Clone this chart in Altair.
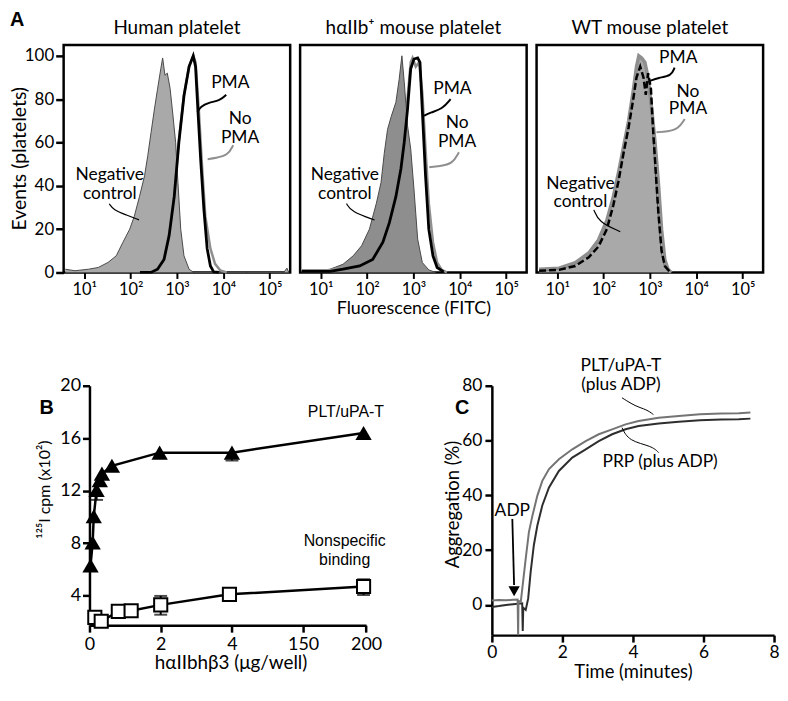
import altair as alt
import pandas as pd

FONT = "Lato"
SANS = "Liberation Sans"

# ---------------- Panel A: flow cytometry histograms ----------------
# x = log10(fluorescence) read from the axis, y = events (% of max)
A1_neg_lx = [0.59, 0.8, 1.09, 1.30, 1.51, 1.69, 1.83, 1.98, 2.08, 2.19, 2.30, 2.37, 2.44, 2.51, 2.58,
             2.65, 2.69, 2.74, 2.79, 2.85, 2.90, 2.97, 3.02, 3.08, 3.15, 3.26, 3.36, 4.5, 5.3, 5.37, 5.41]
A1_neg_y = [1.5, 0.8, 1.5, 2.3, 4.6, 7.7, 13.8, 20, 26, 35, 44.6, 54, 64.6, 75, 84.6,
            94, 99, 91, 92, 85, 75, 60, 41.5, 20, 7.7, 1.5, 0, 0, 0, 2, 0]
A1_pma_lx = [2.2, 2.44, 2.58, 2.72, 2.83, 2.94, 3.04, 3.15, 3.26, 3.35, 3.40, 3.45, 3.51, 3.58, 3.65, 3.72, 3.79, 3.9]
A1_pma_y = [0, 0, 1.5, 6, 17, 35, 60, 81.5, 95, 100, 95, 75, 52, 29, 11, 3, 0.3, 0]
A1_nopma_lx = [2.2, 2.44, 2.58, 2.72, 2.83, 2.94, 3.04, 3.15, 3.26, 3.35, 3.40, 3.47, 3.54, 3.61, 3.72, 3.82, 3.93, 4.07]
A1_nopma_y = [0, 0, 1.5, 6.5, 18, 36, 61, 82, 95, 100, 97, 75, 49, 26, 11, 4, 1, 0]

A2_neg_lx = [0.59, 0.91, 1.20, 1.48, 1.70, 1.88, 2.05, 2.20, 2.30, 2.37, 2.44, 2.52, 2.62, 2.69,
             2.75, 2.80, 2.87, 2.94, 3.01, 3.09, 3.19, 3.33, 3.48]
A2_neg_y = [0.8, 0.8, 1.5, 3.8, 7.7, 12.3, 20, 32, 41.5, 55, 66, 72, 78.5, 89,
            100, 88, 68, 57, 38.5, 15.4, 4.6, 1.2, 0]
A2_pma_lx = [0.59, 1.20, 1.48, 1.84, 2.12, 2.34, 2.48, 2.62, 2.73, 2.80, 2.87, 2.94, 3.01, 3.09,
             3.14, 3.19, 3.26, 3.33, 3.42, 3.51, 3.65]
A2_pma_y = [0.5, 0.5, 1.5, 3, 6, 14, 23, 35, 48, 60, 75, 94, 98.5, 99,
            97, 75, 44.6, 20, 7.7, 2.3, 0.3]
A2_nopma_lx = [0.59, 1.20, 1.48, 1.84, 2.12, 2.34, 2.48, 2.62, 2.73, 2.80, 2.87, 2.94, 2.98, 3.05,
               3.12, 3.19, 3.26, 3.33, 3.42, 3.51, 3.61, 3.72]
A2_nopma_y = [1, 1, 2.5, 4.5, 8, 16, 25, 37, 50, 63, 80, 97, 99, 95,
              97, 83, 57, 32, 14, 4.6, 1.2, 0]

A3_neg_lx = [0.61, 1.04, 1.39, 1.68, 1.89, 2.07, 2.21, 2.32, 2.43, 2.54, 2.64, 2.71, 2.76, 2.82,
             2.89, 2.96, 3.04, 3.11, 3.18, 3.25, 3.32, 3.43]
A3_neg_y = [0.8, 1.5, 3.8, 8.5, 14, 23, 34, 44.6, 57, 69, 83, 94, 99, 98.5,
            96, 88, 71, 48, 26, 9, 2.3, 0.3]
A3_pma_lx = [0.61, 1.04, 1.39, 1.68, 1.89, 2.07, 2.21, 2.32, 2.43, 2.54, 2.64, 2.71, 2.79, 2.86,
             2.91, 2.96, 3.02, 3.07, 3.12, 3.18, 3.25, 3.32, 3.43]
A3_pma_y = [0.8, 1.2, 3, 7, 12, 20, 31, 42, 55, 67, 80, 90, 95, 90,
            82, 92, 85, 65, 48, 28, 10, 3, 0.3]
A3_nopma_lx = [0.61, 1.04, 1.39, 1.68, 1.89, 2.07, 2.21, 2.32, 2.43, 2.54, 2.64, 2.71, 2.76, 2.82,
               2.89, 2.96, 3.04, 3.11, 3.18, 3.25, 3.32, 3.39, 3.46]
A3_nopma_y = [1.5, 2, 4.5, 9, 15, 24, 35, 46, 58, 70, 84, 95, 100, 99,
              97, 90, 75, 60, 42, 20, 6, 1.5, 0]

# annotation texts and leader lines (log10 x, y)
A1_txt = {"t": ["PMA", "No", "PMA", "Negative", "control"],
          "lx": [4.15, 4.36, 4.36, 1.55, 1.55], "y": [87.6, 70.6, 62.2, 44.8, 36.4]}
A2_txt = {"t": ["PMA", "No", "PMA", "Negative", "control"],
          "lx": [3.84, 3.94, 3.94, 1.52, 1.52], "y": [84.5, 68.9, 60.0, 44.8, 36.4]}
A3_txt = {"t": ["PMA", "No", "PMA", "Negative", "control"],
          "lx": [3.61, 3.82, 3.82, 1.50, 1.50], "y": [99, 83.4, 75.2, 41, 32.6]}

A1_lead_pma = ([4.06, 3.93, 3.68, 3.51, 3.44], [82, 79.4, 78.4, 76.6, 73.9])
A1_lead_nopma = ([4.21, 4.10, 3.83, 3.66], [58.7, 54.1, 52.8, 52.3])
A1_lead_neg = ([1.54, 1.63, 1.90, 2.18], [31.7, 28.9, 26.6, 24.3])
A2_lead_pma = ([3.80, 3.62, 3.37, 3.23], [80, 75.4, 73.9, 72.3])
A2_lead_nopma = ([3.98, 3.84, 3.56, 3.34], [55.5, 50.1, 49.1, 48.6])
A2_lead_neg = ([1.556, 1.66, 2.16], [31.8, 28, 24.2])
A3_lead_pma = ([3.53, 3.46, 3.18, 3.0], [94.5, 90.7, 89.9, 88.4])
A3_lead_nopma = ([3.75, 3.61, 3.38, 3.14], [70.8, 66.2, 65.1, 64.7])
A3_lead_neg = ([1.79, 1.89, 2.36], [28.9, 23.4, 18.8])

A_TICKS = [10, 100, 1000, 10000, 100000]
A_YTICKS = [0, 20, 40, 60, 80, 100]

# ---------------- Panel B: binding ----------------
B_tri_x = [0.03, 0.09, 0.12, 0.2, 0.29, 0.35, 0.63, 1.97, 4.0, 198]
B_tri_y = [6.3, 8.05, 10.05, 12.05, 12.8, 13.3, 13.9, 14.9, 14.9, 16.4]
B_tri_err_x = [0.2, 4.0]
B_tri_err_lo = [11.3, 14.3]
B_tri_err_hi = [12.05, 14.9]
B_sq_x = [0.15, 0.33, 0.81, 1.17, 2.0, 3.93, 198]
B_sq_y = [2.35, 2.05, 2.8, 2.85, 3.3, 4.1, 4.7]
B_sq_err_x = [2.0, 198]
B_sq_err_lo = [2.55, 4.05]
B_sq_err_hi = [3.98, 5.25]
B_xticks = [0, 2, 4, 150, 200]
B_yticks = [4, 8, 12, 16, 20]
B_txt = {"t": ["PLT/uPA-T", "Nonspecific", "binding"], "x": [184, 183, 183], "y": [18.0, 8.2, 6.7]}

# ---------------- Panel C: aggregation traces ----------------
C_plt_t = [0, 0.2, 0.4, 0.6, 0.73, 0.745, 0.755, 0.82, 0.96, 1.05, 1.15, 1.29, 1.43, 1.62, 1.90,
           2.28, 2.66, 3.03, 3.41, 3.79, 4.16, 4.73, 5.3, 5.9, 6.5, 7.0, 7.33]
C_plt_v = [1.6, 1.8, 1.7, 1.9, 2.0, -11, 1.5, 1.2, 16.9, 26.6, 32.6, 39.9, 45.3, 49.6, 53.2,
           56.8, 59.8, 62.3, 64.1, 65.9, 67.1, 68.3, 69.0, 69.6, 69.9, 70.0, 70.2]
C_prp_t = [0, 0.2, 0.4, 0.6, 0.86, 0.875, 0.89, 0.96, 1.03, 1.10, 1.19, 1.29, 1.43, 1.62, 1.90,
           2.28, 2.66, 3.03, 3.41, 3.79, 4.16, 4.73, 5.3, 5.9, 6.5, 7.0, 7.33]
C_prp_v = [-0.7, -0.4, 0, 0.3, 0.6, -9.5, -1.0, -1.8, 2.4, 12.1, 21.8, 29, 36.3, 42.9, 48.9,
           53.8, 56.8, 59.8, 62.3, 64.1, 65.3, 66.2, 66.9, 67.4, 67.7, 67.8, 68.0]
C_lead_plt = ([3.69, 4.07, 4.39, 4.58], [75.6, 72.5, 71.3, 69.5])
C_lead_prp = ([3.69, 3.88, 4.54, 4.73], [64.7, 59.8, 58, 55.6])
C_arrow = ([0.58, 0.63], [31.4, 7.3])
C_head = ([0.63], [5.0])
C_txt = {"t": ["PLT/uPA-T", "(plus ADP)", "PRP (plus ADP)", "ADP"],
         "x": [3.66, 3.66, 4.77, 0.58], "y": [87.2, 80.4, 52, 34.4]}
C_xticks = [0, 2, 4, 6, 8]
C_yticks = [0, 20, 40, 60, 80]

ONE = pd.DataFrame({"k": [0]})
SUP = "'10' + ['\u2070','\u00b9','\u00b2','\u00b3','\u2074','\u2075'][round(log(datum.value) / LN10)]"


def xy(xs, ys, log=False):
    return pd.DataFrame({"x": [10 ** v for v in xs] if log else list(xs), "y": list(ys),
                         "i": list(range(len(xs)))})


def a_panel(neg, pma, nopma, leads, txt, title, fill, show_y, xtitle, pma_dash, nopma_w, extras):
    log_dom = [10 ** 0.555, 10 ** 5.44]
    if xtitle:
        xenc = alt.X("x:Q", scale=alt.Scale(type="log", domain=log_dom, nice=False),
                     title=xtitle,
                     axis=alt.Axis(values=A_TICKS, labelExpr=SUP, tickSize=6, tickWidth=2,
                                   labelPadding=3, domain=False, labelFontSize=16.5,
                                   titleFontSize=18, titleX=114, titleY=36, titleBaseline="middle"))
    else:
        xenc = alt.X("x:Q", scale=alt.Scale(type="log", domain=log_dom, nice=False), title=None,
                     axis=alt.Axis(values=A_TICKS, labelExpr=SUP, tickSize=6, tickWidth=2,
                                   labelPadding=3, domain=False, labelFontSize=16.5))
    ysc = alt.Scale(domain=[0, 105], nice=False, zero=False)
    if show_y:
        yenc = alt.Y("y:Q", scale=ysc, title="Events (platelets)",
                     axis=alt.Axis(values=A_YTICKS, tickSize=8, tickWidth=2.5, labelPadding=2,
                                   domain=False, labelFontSize=17, titleFontSize=19.5,
                                   titleX=-44, titleY=114, titleBaseline="middle"))
    else:
        yenc = alt.Y("y:Q", scale=ysc, axis=None)

    layers = [
        alt.Chart(xy(*neg, log=True)).mark_area(
            color=fill, opacity=1, line={"color": "#4a4a4a", "strokeWidth": 1}
        ).encode(x=xenc, y=yenc),
        alt.Chart(xy(*nopma, log=True)).mark_line(color="#8f8f8f", strokeWidth=nopma_w).encode(
            x=xenc, y=yenc, order="i:Q"),
    ]
    if pma_dash:
        layers.append(alt.Chart(xy(*pma, log=True)).mark_line(
            color="black", strokeWidth=2.5, strokeDash=[7, 3]).encode(x=xenc, y=yenc, order="i:Q"))
    else:
        layers.append(alt.Chart(xy(*pma, log=True)).mark_line(
            color="black", strokeWidth=2.8).encode(x=xenc, y=yenc, order="i:Q"))
    lead_cols = ["black", "#8f8f8f", "black"]
    lead_w = [2, 2, 1.2]
    for (lx, ly), col, w in zip(leads, lead_cols, lead_w):
        layers.append(alt.Chart(xy(lx, ly, log=True)).mark_line(
            color=col, strokeWidth=w, interpolate="basis").encode(x=xenc, y=yenc, order="i:Q"))
    tdf = pd.DataFrame({"x": [10 ** v for v in txt["lx"]], "y": txt["y"], "t": txt["t"]})
    layers.append(alt.Chart(tdf).mark_text(font=FONT, fontSize=17.5, color="black").encode(
        x=xenc, y=yenc, text="t:N"))
    layers += extras
    return alt.layer(*layers).properties(
        width=228, height=229,
        title=alt.TitleParams(title, font=FONT, fontSize=19, fontWeight="normal", offset=7,
                              frame="group"),
        view=alt.ViewBackground(stroke="black", strokeWidth=2.5),
    )


bottom_anchor = alt.Chart(ONE).mark_text(text=".", color="white", align="left",
                                          baseline="bottom").encode(x=alt.value(0), y=alt.value(275))

A1 = a_panel((A1_neg_lx, A1_neg_y), (A1_pma_lx, A1_pma_y), (A1_nopma_lx, A1_nopma_y),
             [A1_lead_pma, A1_lead_nopma, A1_lead_neg], A1_txt, "Human platelet", "#a9a9a9",
             True, None, False, 2.5, [bottom_anchor])
A2 = a_panel((A2_neg_lx, A2_neg_y), (A2_pma_lx, A2_pma_y), (A2_nopma_lx, A2_nopma_y),
             [A2_lead_pma, A2_lead_nopma, A2_lead_neg], A2_txt, "h\u03b1IIb\u207a mouse platelet",
             "#8e8e8e", False, "Fluorescence (FITC)", False, 2.5, [])
A3 = a_panel((A3_neg_lx, A3_neg_y), (A3_pma_lx, A3_pma_y), (A3_nopma_lx, A3_nopma_y),
             [A3_lead_pma, A3_lead_nopma, A3_lead_neg], A3_txt, "WT mouse platelet",
             "#a9a9a9", False, None, True, 3.5, [])

# tiny holder for the panel letter "A" (kept out of A1 so its title is not pushed up)
letterA = alt.Chart(ONE).mark_text(text="A", font=SANS, fontSize=20, fontWeight="bold",
                                    align="left", baseline="top").encode(
    x=alt.value(-43), y=alt.value(-35)).properties(width=1, height=1)

# ---------------- Panel B chart ----------------
bx = alt.X("x:Q", scale=alt.Scale(domain=[0, 4, 150, 200], range=[0, 143.4, 215, 278.4], nice=False, zero=False),
           title="h\u03b1IIbh\u03b23 (\u03bcg/well)",
           axis=alt.Axis(values=B_xticks, tickSize=7, tickWidth=2.5, domainWidth=2.5, labelPadding=3,
                         labelFontSize=18, titleFontSize=19, titleX=142, titleY=38,
                         titleBaseline="middle", labelFlush=False))
by = alt.Y("y:Q", scale=alt.Scale(domain=[1.75, 20], nice=False, zero=False),
           title="\u00b9\u00b2\u2075I cpm (x10\u00b2)",
           axis=alt.Axis(values=B_yticks, tickSize=7, tickWidth=2.5, domainWidth=2.5, labelPadding=2,
                         labelFontSize=18, titleFontSize=16, titleX=-45, titleY=104,
                         titleBaseline="middle", labelFlush=False))

tri = xy(B_tri_x, B_tri_y)
sq = xy(B_sq_x, B_sq_y)
tri_err = pd.DataFrame({"x": B_tri_err_x, "y": B_tri_err_lo, "y2": B_tri_err_hi})
sq_err = pd.DataFrame({"x": B_sq_err_x, "y": B_sq_err_lo, "y2": B_sq_err_hi})
sq_caps = pd.DataFrame({"x": B_sq_err_x + B_sq_err_x, "y": B_sq_err_lo + B_sq_err_hi})

B = alt.layer(
    alt.Chart(tri).mark_line(color="black", strokeWidth=2.5).encode(x=bx, y=by, order="i:Q"),
    alt.Chart(tri_err).mark_rule(color="black", strokeWidth=2).encode(x=bx, y=by, y2="y2:Q"),
    alt.Chart(tri_err).mark_tick(orient="horizontal", size=13, thickness=2, color="black").encode(x=bx, y=by),
    alt.Chart(tri).mark_point(shape="triangle-up", filled=True, color="black", size=270, opacity=1).encode(x=bx, y=by),
    alt.Chart(sq).mark_line(color="black", strokeWidth=2.5).encode(x=bx, y=by, order="i:Q"),
    alt.Chart(sq_err).mark_rule(color="black", strokeWidth=2).encode(x=bx, y=by, y2="y2:Q"),
    alt.Chart(sq_caps).mark_tick(orient="horizontal", size=13, thickness=2, color="black").encode(x=bx, y=by),
    alt.Chart(sq).mark_point(shape="square", filled=True, fill="white", stroke="black", strokeWidth=2,
                             size=175, opacity=1).encode(x=bx, y=by),
    alt.Chart(pd.DataFrame(B_txt)).mark_text(font=SANS, fontSize=16, color="black").encode(
        x=bx, y=by, text="t:N"),
    alt.Chart(ONE).mark_text(text="B", font=SANS, fontSize=20, fontWeight="bold").encode(
        x=alt.value(-43), y=alt.value(22)),
    alt.Chart(ONE).mark_text(text=".", color="white", align="left", baseline="top").encode(
        x=alt.value(-80), y=alt.value(-30)),
).properties(width=279, height=241)

# ---------------- Panel C chart ----------------
cx = alt.X("x:Q", scale=alt.Scale(domain=[0, 8], nice=False, zero=False), title="Time (minutes)",
           axis=alt.Axis(values=C_xticks, tickSize=7, tickWidth=2.5, domainWidth=2.5, labelPadding=2,
                         labelFontSize=17.5, titleFontSize=18.5, titleY=37, titleBaseline="middle",
                         labelFlush=False))
cy = alt.Y("y:Q", scale=alt.Scale(domain=[-11, 80], nice=False, zero=False), title="Aggregation (%)",
           axis=alt.Axis(values=C_yticks, tickSize=7, tickWidth=2.5, domainWidth=2.5, labelPadding=3,
                         labelFontSize=17.5, titleFontSize=18.5, titleX=-40, titleY=119,
                         titleBaseline="middle", labelFlush=False))

C = alt.layer(
    alt.Chart(xy(C_prp_t, C_prp_v)).mark_line(color="#2e2e2e", strokeWidth=2).encode(x=cx, y=cy, order="i:Q"),
    alt.Chart(xy(C_plt_t, C_plt_v)).mark_line(color="#747474", strokeWidth=2).encode(x=cx, y=cy, order="i:Q"),
    alt.Chart(xy(*C_lead_plt)).mark_line(color="black", strokeWidth=1, interpolate="basis").encode(
        x=cx, y=cy, order="i:Q"),
    alt.Chart(xy(*C_lead_prp)).mark_line(color="black", strokeWidth=1, interpolate="basis").encode(
        x=cx, y=cy, order="i:Q"),
    alt.Chart(xy(*C_arrow)).mark_line(color="black", strokeWidth=1.8).encode(x=cx, y=cy, order="i:Q"),
    alt.Chart(xy(*C_head)).mark_point(shape="triangle-down", filled=True, color="black", size=130,
                                      opacity=1).encode(x=cx, y=cy),
    alt.Chart(pd.DataFrame(C_txt)).mark_text(font=FONT, fontSize=17.5, color="black").encode(
        x=cx, y=cy, text="t:N"),
    alt.Chart(ONE).mark_text(text="C", font=SANS, fontSize=20, fontWeight="bold").encode(
        x=alt.value(-30), y=alt.value(22)),
).properties(width=284, height=251)

spacer = alt.Chart(ONE).mark_point(opacity=0, size=1).encode(
    x=alt.value(0), y=alt.value(0)).properties(width=1, height=1)

row1 = alt.hconcat(letterA, A1, A2, A3, spacing=10, bounds="flush")
row2 = alt.hconcat(spacer, alt.hconcat(B, C, spacing=126, bounds="flush"), spacing=36, bounds="flush")

chart = alt.vconcat(row1, row2, spacing=36, bounds="full").properties(
    padding={"left": 0, "top": 0, "right": 0, "bottom": 0}, background="white"
).configure_axis(
    labelFont=FONT, titleFont=FONT, labelColor="black", titleColor="black", tickColor="black",
    domainColor="black", titleFontWeight="normal", grid=False
).configure_view(strokeWidth=0)

chart.save("out.html", embed_options={"renderer": "svg", "actions": False})
